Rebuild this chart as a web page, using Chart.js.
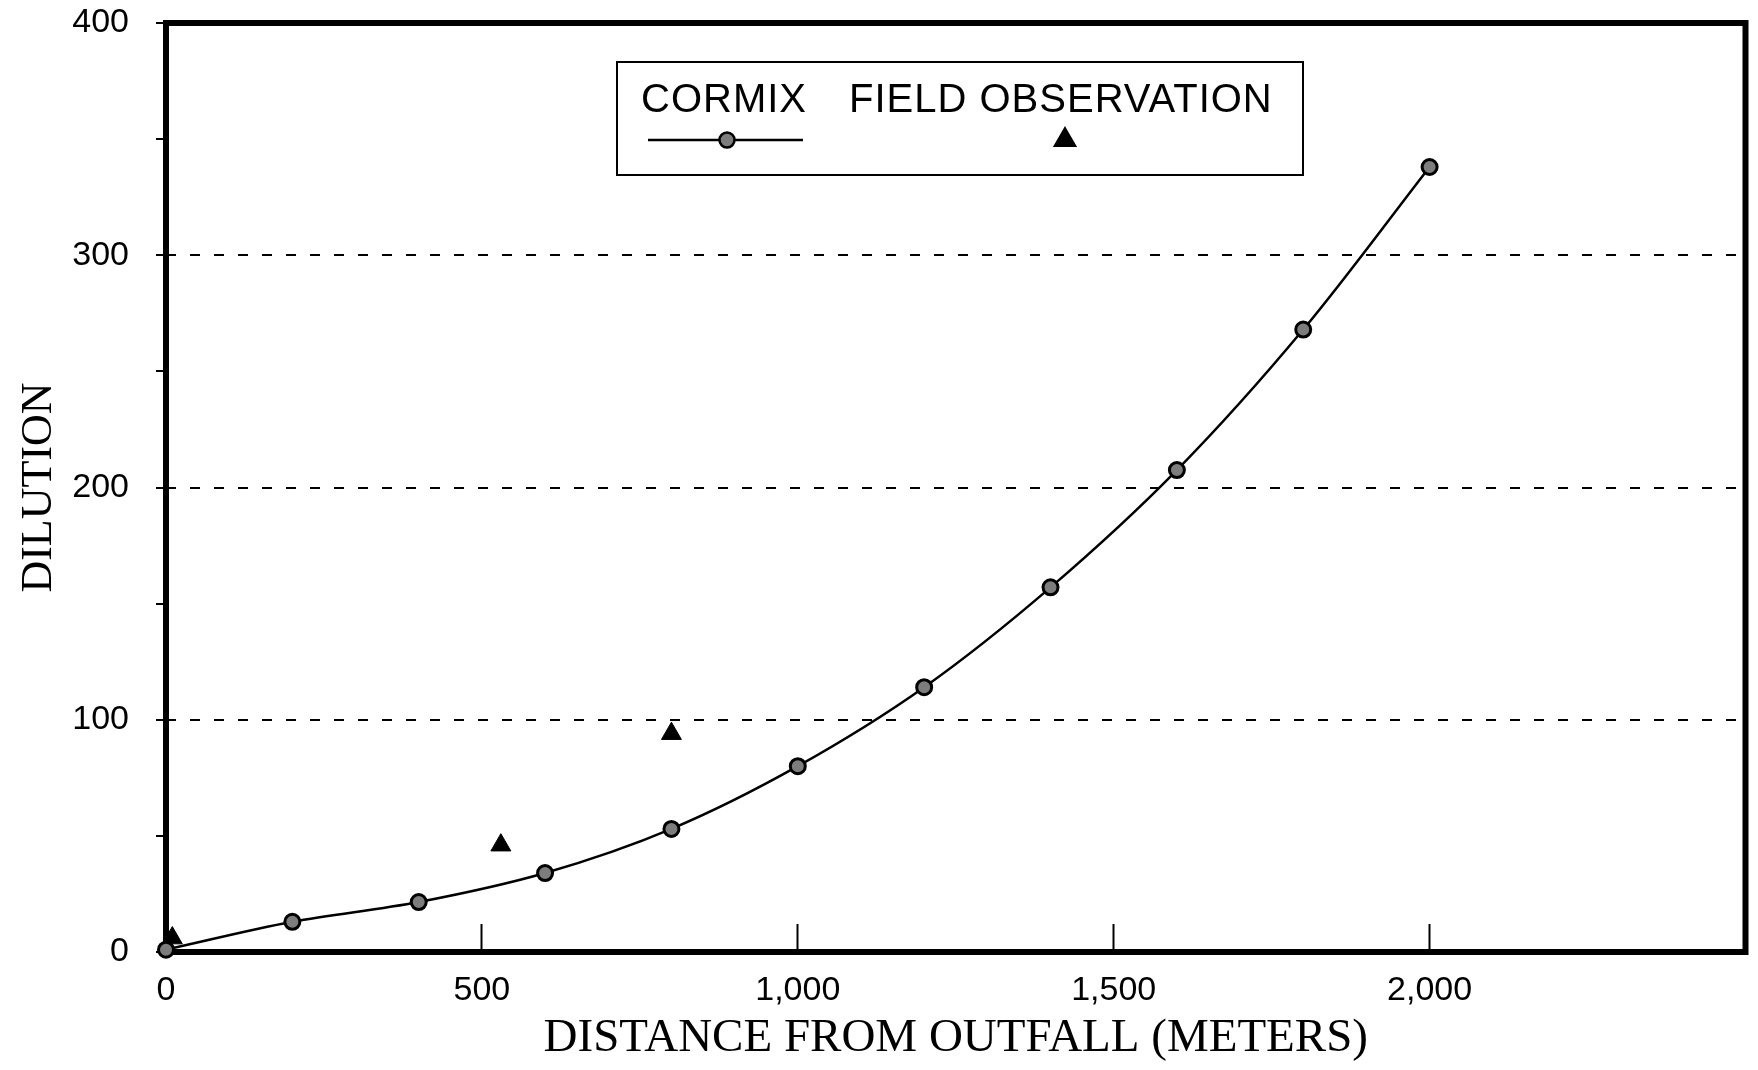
<!DOCTYPE html>
<html>
<head>
<meta charset="utf-8">
<title>Dilution vs distance from outfall</title>
<script src="https://cdn.jsdelivr.net/npm/chart.js@4.4.1/dist/chart.umd.min.js"></script>
<style>
  html, body { margin: 0; padding: 0; background: #fff; }
  #wrap { width: 1758px; height: 1070px; position: relative; }
</style>
</head>
<body>
<div id="wrap"><canvas id="dilutionChart"></canvas></div>
<script>
// CORMIX prediction: distance (m) -> dilution
const cormixDistance = [0, 200, 400, 600, 800, 1000, 1200, 1400, 1600, 1800, 2000];
const cormixDilution = [1, 13, 21.5, 34, 53, 80, 114, 157, 207.5, 268, 338];

// field measurements
const fieldDistance = [10, 530, 800];
const fieldDilution = [6, 46, 94];

// labelled ticks
const xTickLabels = [0, 500, 1000, 1500, 2000];
const yTickLabels = [0, 100, 200, 300, 400];
const yGridValues = [100, 200, 300];

const sansFont = '"Liberation Sans", Arial, Helvetica, sans-serif';
const serifFont = '"Liberation Serif", "Times New Roman", serif';

function toPoints(xs, ys) {
    return xs.map((x, i) => ({ x: x, y: ys[i] }));
}

// thick frame around the plot area
const plotFrame = {
    id: 'plotFrame',
    beforeDatasetsDraw(chart) {
        const { ctx, chartArea: a } = chart;
        ctx.save();
        ctx.strokeStyle = '#000';
        ctx.lineWidth = 6;
        ctx.strokeRect(a.left, a.top, a.right - a.left, a.bottom - a.top);
        ctx.restore();
    }
};

// boxed legend: names on top, symbols underneath
const boxLegend = {
    id: 'boxLegend',
    afterDraw(chart) {
        const ctx = chart.ctx;
        const cormix = chart.data.datasets[0];
        const field = chart.data.datasets[1];
        ctx.save();
        ctx.strokeStyle = '#000';
        ctx.lineWidth = 2;
        ctx.strokeRect(617, 62, 686, 113);

        ctx.fillStyle = '#000';
        ctx.font = '40px ' + sansFont;
        ctx.textBaseline = 'middle';
        ctx.textAlign = 'left';
        ctx.letterSpacing = '1px';
        ctx.fillText(cormix.label, 641, 101);
        ctx.fillText(field.label, 849, 101);
        ctx.letterSpacing = '0px';

        // line sample with marker
        ctx.beginPath();
        ctx.lineWidth = cormix.borderWidth;
        ctx.moveTo(648, 140);
        ctx.lineTo(803, 140);
        ctx.stroke();

        ctx.fillStyle = cormix.pointBackgroundColor;
        ctx.strokeStyle = cormix.pointBorderColor;
        Chart.helpers.drawPoint(ctx, {
            pointStyle: cormix.pointStyle, radius: cormix.pointRadius,
            borderWidth: cormix.pointBorderWidth, rotation: 0
        }, 727, 140);

        ctx.fillStyle = field.pointBackgroundColor;
        ctx.strokeStyle = field.pointBorderColor;
        Chart.helpers.drawPoint(ctx, {
            pointStyle: field.pointStyle, radius: field.pointRadius,
            borderWidth: field.pointBorderWidth, rotation: 0
        }, 1065, 140);
        ctx.restore();
    }
};

const ctx = document.getElementById('dilutionChart').getContext('2d');

new Chart(ctx, {
    type: 'line',
    data: {
        datasets: [
            {
                label: 'CORMIX',
                data: toPoints(cormixDistance, cormixDilution),
                borderColor: '#000',
                borderWidth: 2.5,
                cubicInterpolationMode: 'monotone',
                pointStyle: 'circle',
                pointRadius: 7.5,
                pointBackgroundColor: '#7d7d7d',
                pointBorderColor: '#000',
                pointBorderWidth: 3,
                clip: false,
                fill: false
            },
            {
                label: 'FIELD OBSERVATION',
                data: toPoints(fieldDistance, fieldDilution),
                showLine: false,
                pointStyle: 'triangle',
                pointRadius: 11.5,
                pointBackgroundColor: '#000',
                pointBorderColor: '#000',
                pointBorderWidth: 1,
                clip: false
            }
        ]
    },
    options: {
        responsive: true,
        maintainAspectRatio: false,
        animation: false,
        layout: { padding: { top: 23, right: 6, left: 0, bottom: 0 } },
        plugins: {
            legend: { display: false },
            tooltip: { enabled: false }
        },
        scales: {
            x: {
                type: 'linear',
                min: 0,
                max: 2500,
                ticks: {
                    stepSize: 500,
                    autoSkip: false,
                    maxRotation: 0,
                    padding: 46,
                    color: '#000',
                    font: { family: sansFont, size: 34 },
                    callback: v => xTickLabels.includes(v) ? v.toLocaleString('en-US') : ''
                },
                // ticks point up into the plot
                grid: {
                    drawOnChartArea: false,
                    tickLength: -28,
                    tickWidth: 2,
                    tickColor: '#000'
                },
                border: { display: false },
                title: {
                    display: true,
                    text: 'DISTANCE FROM OUTFALL (METERS)',
                    color: '#000',
                    font: { family: serifFont, size: 47 },
                    padding: { top: 0, bottom: 3 }
                },
                afterFit: s => {
                    s.height = 118;
                    s.paddingLeft = 0;
                    s.paddingRight = 0;
                }
            },
            y: {
                min: 0,
                max: 400,
                ticks: {
                    stepSize: 50,
                    autoSkip: false,
                    padding: 27,
                    color: '#000',
                    font: { family: sansFont, size: 34 },
                    callback: v => yTickLabels.includes(v) ? String(v) : ''
                },
                grid: {
                    color: c => (c.tick && yGridValues.includes(c.tick.value)) ? '#000' : 'rgba(0,0,0,0)',
                    lineWidth: 2,
                    tickLength: 10,
                    tickWidth: 2,
                    tickColor: '#000'
                },
                border: { display: false, dash: [10, 14] },
                title: {
                    display: true,
                    text: 'DILUTION',
                    color: '#000',
                    font: { family: serifFont, size: 44 },
                    padding: { top: 13, bottom: 0 }
                },
                afterFit: s => {
                    s.width = 166;
                    s.paddingTop = 0;
                    s.paddingBottom = 0;
                }
            }
        }
    },
    plugins: [plotFrame, boxLegend]
});
</script>
</body>
</html>
